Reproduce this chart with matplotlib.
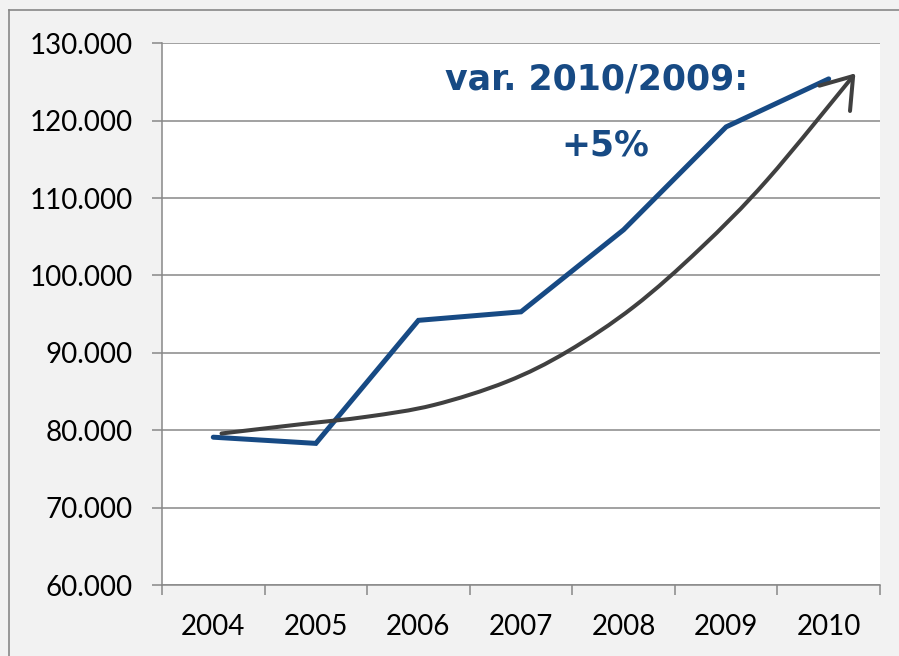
import matplotlib
matplotlib.use("Agg")
import matplotlib.pyplot as plt
from matplotlib.lines import Line2D
from matplotlib.path import Path
from matplotlib.patches import FancyArrowPatch
from matplotlib.ticker import FuncFormatter, FixedLocator

# ---- data ----
years = ["2004", "2005", "2006", "2007", "2008", "2009", "2010"]
values = [79100, 78300, 94200, 95300, 105900, 119200, 125400]

# hand-drawn trend arrow, x in category units
trend_x = [0.08, 0.85, 1.50, 2.15, 2.86, 3.45, 4.10, 4.75, 5.40, 6.26]
trend_y = [79580, 80770, 81750, 83260, 86270, 90150, 95960, 103510, 112340, 126120]

annot_line1 = "var. 2010/2009:"
annot_line2 = "+5%"

yticks = [60000, 70000, 80000, 90000, 100000, 110000, 120000, 130000]

# ---- style ----
blue = "#174A84"
dark = "#404040"
grid = "#888888"
bg = "#F2F2F2"

W, H = 899, 656
fig = plt.figure(figsize=(W / 100, H / 100), dpi=100, facecolor=bg)

# outer frame lines (left and top)
fig.add_artist(Line2D([9 / W, 9 / W], [0, 1 - 10 / H], transform=fig.transFigure,
                      color=grid, lw=1.2))
fig.add_artist(Line2D([9 / W, 1], [1 - 10 / H, 1 - 10 / H], transform=fig.transFigure,
                      color=grid, lw=1.2))

left, right = 162 / W, 880 / W
bottom, top = 1 - 585 / H, 1 - 43.3 / H
ax = fig.add_axes([left, bottom, right - left, top - bottom])
ax.set_facecolor("white")

ax.set_xlim(-0.5, 6.5)
ax.set_ylim(60000, 130000)

x = list(range(len(years)))
ax.plot(x, values, color=blue, lw=3.6, solid_capstyle="round",
        solid_joinstyle="miter", zorder=3)

# smooth path through the trend points (Catmull-Rom -> cubic Bezier), in display space
fig.canvas.draw()
pts = ax.transData.transform(list(zip(trend_x, trend_y)))
verts = [tuple(pts[0])]
codes = [Path.MOVETO]
n = len(pts)
for i in range(n - 1):
    p0 = pts[i - 1] if i > 0 else pts[i]
    p1 = pts[i]
    p2 = pts[i + 1]
    p3 = pts[i + 2] if i + 2 < n else pts[i + 1]
    c1 = p1 + (p2 - p0) / 6.0
    c2 = p2 - (p3 - p1) / 6.0
    verts += [tuple(c1), tuple(c2), tuple(p2)]
    codes += [Path.CURVE4] * 3
inv = ax.transData.inverted()
verts_data = inv.transform(verts)
arrow = FancyArrowPatch(path=Path(verts_data, codes),
                        arrowstyle="->,head_length=0.8,head_width=0.55",
                        mutation_scale=26, color=dark, lw=2.9,
                        capstyle="round", joinstyle="round",
                        transform=ax.transData, zorder=4)
ax.add_patch(arrow)

ax.yaxis.set_major_locator(FixedLocator(yticks))
ax.yaxis.set_major_formatter(FuncFormatter(lambda v, p: f"{v/1000:.3f}"))
ax.grid(axis="y", color=grid, lw=1.1)
ax.set_axisbelow(True)

# x: ticks at boundaries, labels at centers
ax.xaxis.set_major_locator(FixedLocator([i - 0.5 for i in range(len(years) + 1)]))
ax.xaxis.set_major_formatter(FuncFormatter(lambda v, p: ""))
ax.set_xticks(x, minor=True)
ax.set_xticklabels(years, minor=True)

ax.tick_params(axis="x", which="major", direction="out", length=7.2, width=1.1, color=grid)
ax.tick_params(axis="x", which="minor", length=0, pad=21, labelsize=20, labelcolor="black")
ax.tick_params(axis="y", which="major", direction="out", length=7.2, width=1.1, color=grid,
               pad=14, labelsize=20, labelcolor="black")

for lab in ax.get_xticklabels(minor=True) + ax.get_yticklabels():
    lab.set_fontfamily("Lato")

for s in ["top", "right"]:
    ax.spines[s].set_visible(False)
for s in ["left", "bottom"]:
    ax.spines[s].set_color(grid)
    ax.spines[s].set_linewidth(1.1)

ax.text(0.605, 0.915, annot_line1, transform=ax.transAxes, ha="center", va="baseline",
        color=blue, fontsize=25, fontweight="bold", family="DejaVu Sans", zorder=5)
ax.text(0.617, 0.792, annot_line2, transform=ax.transAxes, ha="center", va="baseline",
        color=blue, fontsize=25, fontweight="bold", family="DejaVu Sans", zorder=5)

fig.savefig("out.png", dpi=100, facecolor=bg)
